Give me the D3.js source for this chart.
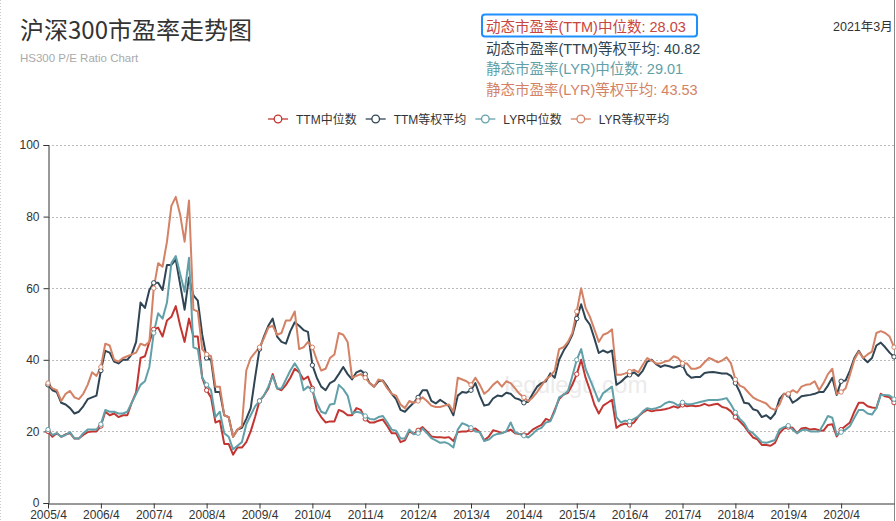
<!DOCTYPE html>
<html><head><meta charset="utf-8">
<script src="https://cdn.jsdelivr.net/npm/d3@7/dist/d3.min.js"></script>
<style>
body{margin:0;background:#fff;}
svg{display:block;font-family:"Liberation Sans",Arial,"Noto Sans CJK SC",sans-serif;}
</style>
</head><body>
<svg id="chart" width="896" height="521"></svg>
<script>
// ---------- data ----------
const titleText = "沪深300市盈率走势图";
const subtitleText = "HS300 P/E Ratio Chart";
const dateText = "2021年3月";
const seriesNames = ["TTM中位数", "TTM等权平均", "LYR中位数", "LYR等权平均"];
const seriesColors = ["#c23531", "#2f4554", "#61a0a8", "#d48265"];
const summaryLabels = ["动态市盈率(TTM)中位数", "动态市盈率(TTM)等权平均", "静态市盈率(LYR)中位数", "静态市盈率(LYR)等权平均"];
const summaryValues = ["28.03", "40.82", "29.01", "43.53"];
const yTicks = [0, 20, 40, 60, 80, 100];
const xTickLabels = ["2005/4","2006/4","2007/4","2008/4","2009/4","2010/4","2011/4","2012/4",
  "2013/4","2014/4","2015/4","2016/4","2017/4","2018/4","2019/4","2020/4"];

// monthly categories 2005/4 .. 2021/4
const months = [];
for (let y = 2005, m = 4; months.length < 193; ) {
  months.push(y + "/" + m);
  m++; if (m > 12) { m = 1; y++; }
}

const ttmMedian = [
  20,18.5,19.5,18.5,19.2,19.5,18,18,19,19.8,20,20,
  21.5,25.5,24.5,25,24,24.5,24.5,28,31,40.5,41,45,
  48.5,49,46.5,51,52,55,49.5,45,51.5,46.5,46.5,35,
  31.5,29.5,22.5,23,16.5,16.5,13.5,15.5,15.5,17,20,24,
  28.5,30,32,36,32,31.5,33,35,37.5,36.5,34.5,35.3,
  32,26,24,22.5,22.8,22.8,26,25.5,24.5,24.5,26.5,26,
  23.5,22.5,22.5,23,23.3,21.5,19.5,19.5,17,17.5,20,19.3,
  20.3,21.2,20,18.6,18.4,18.4,18.2,18.4,17.3,19.8,20,20,
  20.5,20.8,19.8,17.5,18.5,20.3,20,19.5,20,20.5,19.5,19.3,
  19,19.3,20.5,21.2,21.8,23.5,23,26,29,30.3,30.8,33,
  36,40,35,31.5,27.5,25,27.2,28,28.8,21,21.8,22.2,
  21.8,22.5,24.2,25.3,26,25.6,25.9,26,26.2,26.5,27,26.6,
  27.4,27,27.2,27,27.2,27.7,27.2,27.5,27.7,26.8,26.5,25.6,
  24,22.8,21.5,19.8,18.3,17.8,16.2,16.2,16,16.8,19.5,20.8,
  21.2,21,19.5,20.8,21,20.5,20.7,20.3,20.2,21.8,22,18.6,
  20.5,21.5,22.5,25.5,28,28,27,26.7,26.5,30.5,29.8,29.5,28.03
];
const ttmEqual = [
  33,31.5,31,28,27.5,26.5,25,25.5,27,29,29.5,30,
  37,42.5,42,39.5,39,40,40,41.5,45,56,54.5,59.5,
  61.5,61.5,59.5,66.5,66.5,68,61,54,63,58,56.5,47,
  40.5,40,31,31,24.5,24,18.5,20.5,21,23.5,26.5,35,
  43,46.5,49.5,51.5,46.5,45,44.5,48,50.5,49.5,48.3,47.8,
  38.5,35,32.5,31.5,33.5,34.2,36,38,36,34.5,36.5,37,
  36,33.5,32.5,34,34.2,32.5,30.5,29,26,25.5,26.8,28,
  29.5,31.5,31.5,28.5,27.8,28.8,28,27,24.5,30,31,30.8,
  31.5,33.5,30,27.2,27.5,29.2,30,29.8,30.8,30.5,29.3,28.9,
  28,28.3,30.5,32.5,33.5,34,36.2,35,40,42.5,44.5,47,
  51.5,55.5,51.5,49.8,46,41.9,42.6,42,42.6,33,33.8,35,
  35.8,36.5,35.5,37,39.5,40,38.8,38,38.5,38.2,37.8,38.2,
  38.5,36,35,35.2,35.2,36.3,36.5,36.6,36.4,36.2,36.2,35.5,
  33.5,31,28,27.8,26.2,25.8,24,24.5,23.5,25,29,30.5,
  30.2,28,28.8,29.8,30,30.2,30.5,31,31,32.8,35,30.2,
  34,34.2,37,40.5,42.5,40.5,39.3,40.5,44,44.8,43.5,42,40.82
];
const lyrMedian = [
  20.5,19,19.5,18.5,19,19.8,18,18,19.5,20.5,20.5,20.5,
  22,26,25.5,25.5,25,25,25.5,28,30.5,33,34,38,
  47.5,53,51.5,56,67,69,64,59,68.5,43.5,43,35,
  33,31.5,24,25.5,19.5,18.5,15,16,17,22,24.5,27,
  28.5,30,32.5,35.5,32,32,34.5,37,39,37,31.5,32.5,
  31.5,28,25.5,25,27.5,27.7,33,31.8,30,25,25.5,25.2,
  24.3,23.5,23.3,24,24.3,22.5,20.5,20.2,18,18,20.5,19.2,
  19.5,20.8,19.5,18.1,17.5,16.8,17,16.5,15.5,20.5,22.3,21.8,
  21,20,19.8,17.3,17.7,18.8,19.3,19.5,20,22.5,19.7,19.3,
  18.8,18.3,19.3,20.5,21,22.5,22.8,25.5,29.5,30.2,31.3,35.5,
  40,43,37.5,34.5,31.5,28.4,30.7,31.6,32.5,24,22.5,23,
  22.8,23.5,24.2,25.6,26.5,26.2,26.5,26.9,27.8,28.3,28,27.2,
  28.1,27.6,27.6,27.9,28.2,28.5,28.8,28.8,28.8,29,29.3,27.5,
  25.3,23.5,22.3,20.2,19.5,18.3,17,16.8,17.2,17.6,20.5,21.2,
  21.6,20.5,19.5,20.3,20.5,20,20,20,22,24.3,23.8,19,
  19.8,20.5,21.5,23.8,26,26,25,24.7,26.5,30.2,30.2,30,29.01
];
const lyrEqual = [
  33.5,32,31.5,28.5,30.5,31.3,29.5,29,30.5,33,36.5,35.5,
  38,44.5,44,40,39.5,40.5,41,41.5,42,44.5,44,45,
  60,67,66,73,83,85.5,80.5,73,84.5,54,53.5,43,
  41.5,41,32.5,32.5,24.5,24,18.5,20.5,21.5,37,40.5,42,
  43.5,46,49,49.5,47,47.5,51,51,53.5,43,43.5,45,
  43.5,40,37,37.5,40.5,41.5,47.5,47,45,35,35.5,36,
  35,33.5,32.5,34.5,34,32,30.5,30,27.5,26.5,28.5,28,
  28.5,29.5,28.5,27.2,26.8,26.8,27.2,27.5,25.5,35,34.5,34,
  33,35,33,30.5,31.5,33,34,32.5,34,33.5,32,30.5,
  29.5,28.4,29.5,31,32.8,34.5,35.5,37,43,43.5,45,47.5,
  53.5,60,54.5,52,48.5,45,47,47.5,48.5,35.8,35.8,36.2,
  36.7,37.2,36.5,38.6,40.5,39.8,39,39,39.5,39.8,41,40.5,
  39,39,37.5,37.5,38,39.3,40.5,40,39.3,39.8,40.7,39,
  34.5,32.8,32.2,30.8,29.5,28.8,28.3,27.8,26.5,26,27.5,30.5,
  30.5,31.5,30.8,32.5,33,33.2,34,31.5,33.5,36,37.5,30.5,
  31,32,35.8,40,42.3,40.5,41.5,42.3,47.5,48,47.5,46.5,43.53
];
const seriesValues = [ttmMedian, ttmEqual, lyrMedian, lyrEqual];

// ---------- drawing ----------
const svg = d3.select("#chart");
const plot = {left: 48, right: 894, top: 145, bottom: 503};

const x = d3.scalePoint().domain(months).range([plot.left, plot.right]);
const y = d3.scaleLinear().domain([0, 100]).range([plot.bottom, plot.top]);

// page borders (screenshot frame)
svg.append("line").attr("x1", 0.5).attr("x2", 0.5).attr("y1", 0).attr("y2", 521)
  .attr("stroke", "#ccc").attr("stroke-dasharray", "1,2");
svg.append("line").attr("x1", 894.5).attr("x2", 894.5).attr("y1", 0).attr("y2", 521)
  .attr("stroke", "#888");

// title
svg.append("text").attr("x", 20).attr("y", 39).attr("font-size", 24)
  .attr("font-family", "'Noto Sans CJK SC', sans-serif").attr("fill", "#333").text(titleText);
svg.append("text").attr("x", 20).attr("y", 62).attr("font-size", 11.5)
  .attr("fill", "#aaa").text(subtitleText);

// summary block
const sumG = svg.append("g").attr("font-size", 14.5).attr("font-family", "'Liberation Sans','Noto Sans CJK SC',sans-serif");
const sumColors = ["#c9453f", "#2f4554", "#61a0a8", "#d48265"];
const sumY = [31.5, 53.5, 74, 94.5];
summaryLabels.forEach((t, i) => {
  sumG.append("text").attr("x", 486).attr("y", sumY[i]).attr("fill", sumColors[i])
    .text(t + ": " + summaryValues[i]);
});
svg.append("rect").attr("x", 482).attr("y", 14.5).attr("width", 215).attr("height", 22)
  .attr("rx", 3).attr("fill", "none").attr("stroke", "#1e8fff").attr("stroke-width", 2);
svg.append("text").attr("x", 833).attr("y", 31).attr("font-size", 12.5).attr("fill", "#333")
  .attr("font-family", "'Liberation Sans','Noto Sans CJK SC',sans-serif").text(dateText);

// watermark
svg.append("text").attr("x", 576).attr("y", 393).attr("text-anchor", "middle")
  .attr("font-size", 24).attr("fill", "#ebebeb").text("legulegu.com");

// grid
svg.append("g").selectAll("line").data(yTicks.filter(d => d > 0)).join("line")
  .attr("x1", plot.left).attr("x2", plot.right)
  .attr("y1", d => Math.round(y(d)) + 0.5).attr("y2", d => Math.round(y(d)) + 0.5)
  .attr("stroke", "#bbb").attr("stroke-dasharray", "2,2");

// axes
const yAxis = d3.axisLeft(y).tickValues(yTicks).tickSize(5).tickPadding(4);
const yG = svg.append("g").attr("transform", `translate(${plot.left + 0.5},0)`).call(yAxis);
yG.select(".domain").attr("stroke", "#333");
yG.selectAll(".tick line").attr("stroke", "#333");
yG.selectAll("text").attr("font-size", 12).attr("fill", "#333").attr("font-family", "'Liberation Sans',Arial,sans-serif");

const xAxis = d3.axisBottom(x).tickValues(xTickLabels).tickSize(5).tickPadding(1.5).tickSizeOuter(0);
const xG = svg.append("g").attr("transform", `translate(0,${plot.bottom + 0.5})`).call(xAxis);
xG.select(".domain").attr("stroke", "#333");
xG.selectAll(".tick line").attr("stroke", "#333");
xG.selectAll("text").attr("font-size", 12).attr("fill", "#333").attr("font-family", "'Liberation Sans',Arial,sans-serif");

// lines
const line = d3.line().x((d, i) => x(months[i])).y(d => y(d));
const linesG = svg.append("g");
seriesValues.forEach((vals, s) => {
  linesG.append("path").datum(vals).attr("d", line).attr("fill", "none")
    .attr("stroke", seriesColors[s]).attr("stroke-width", 2).attr("stroke-linejoin", "round");
});
seriesValues.forEach((vals, s) => {
  linesG.append("g").selectAll("circle")
    .data(vals.map((v, i) => ({v, i})).filter(d => d.i % 12 === 0))
    .join("circle").attr("cx", d => x(months[d.i])).attr("cy", d => y(d.v)).attr("r", 2.2)
    .attr("fill", "#fff").attr("stroke", seriesColors[s]).attr("stroke-width", 1);
});

// legend
const legG = svg.append("g").attr("font-size", 12).attr("font-family", "'Liberation Sans','Noto Sans CJK SC',sans-serif");
let lx = 0;
seriesNames.forEach((n, i) => {
  const g = legG.append("g").attr("transform", `translate(${lx},0)`);
  g.append("line").attr("x1", 0).attr("x2", 20).attr("y1", 0).attr("y2", 0)
    .attr("stroke", seriesColors[i]).attr("stroke-width", 1.5).attr("opacity", 0.85);
  g.append("circle").attr("cx", 10).attr("cy", 0).attr("r", 3.8).attr("fill", "#fff")
    .attr("stroke", seriesColors[i]).attr("stroke-width", 1.3);
  const t = g.append("text").attr("x", 28).attr("y", 4.5).attr("fill", "#333").text(n);
  lx += 28 + t.node().getComputedTextLength() + 9;
});
const legW = lx - 9;
legG.attr("transform", `translate(${Math.round(468.5 - legW / 2)},119)`);
</script>
</body></html>
